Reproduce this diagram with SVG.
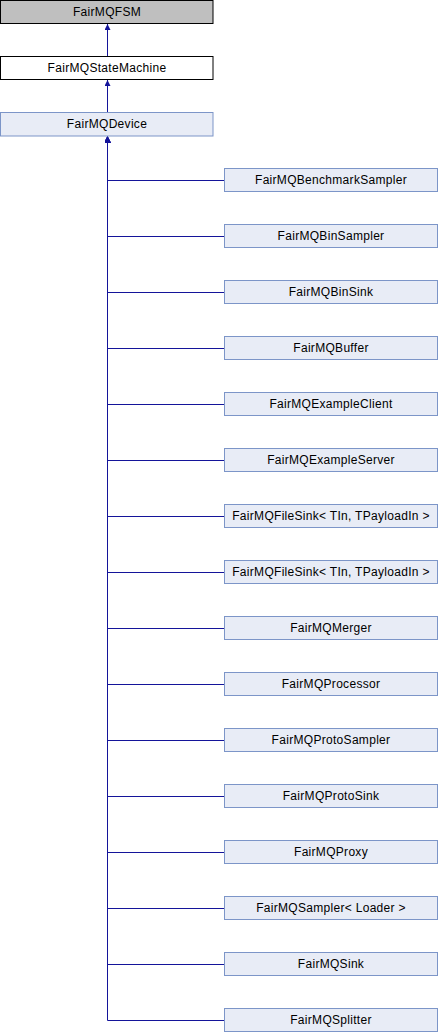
<svg xmlns="http://www.w3.org/2000/svg" width="438" height="1032" viewBox="0 0 438 1032">
<style>
rect.base{fill:#bfbfbf;stroke:#000000;stroke-width:1}
rect.plain{fill:#ffffff;stroke:#000000;stroke-width:1}
rect.cls{fill:#e8ecf6;stroke:#7c95c8;stroke-width:1}
text{font-family:"Liberation Sans",Arial,sans-serif;font-size:12px;letter-spacing:0.3px;fill:#000000;text-anchor:middle}
.edge path{fill:none;stroke:#14149a;stroke-width:1;marker-end:url(#arr)}
</style>
<defs>
<marker id="arr" viewBox="0 0 10 10" refX="10" refY="5" markerWidth="6" markerHeight="6" markerUnits="userSpaceOnUse" orient="auto">
<path d="M0,0 L10,5 L0,10 z" fill="#14149a"/>
</marker>
</defs>
<g id="connectors" class="edge">
<path d="M107.5 56.5 V24"/>
<path d="M107.5 112.5 V80"/>
<path d="M224.5 180.5 H107.5 V136.5"/>
<path d="M224.5 236.5 H107.5 V136.5"/>
<path d="M224.5 292.5 H107.5 V136.5"/>
<path d="M224.5 348.5 H107.5 V136.5"/>
<path d="M224.5 404.5 H107.5 V136.5"/>
<path d="M224.5 460.5 H107.5 V136.5"/>
<path d="M224.5 516.5 H107.5 V136.5"/>
<path d="M224.5 572.5 H107.5 V136.5"/>
<path d="M224.5 628.5 H107.5 V136.5"/>
<path d="M224.5 684.5 H107.5 V136.5"/>
<path d="M224.5 740.5 H107.5 V136.5"/>
<path d="M224.5 796.5 H107.5 V136.5"/>
<path d="M224.5 852.5 H107.5 V136.5"/>
<path d="M224.5 908.5 H107.5 V136.5"/>
<path d="M224.5 964.5 H107.5 V136.5"/>
<path d="M224.5 1020.5 H107.5 V136.5"/>
</g>
<g id="FairMQFSM"><rect class="base" x="0.5" y="0.5" width="212.5" height="23"/><text x="107" y="16">FairMQFSM</text></g>
<g id="FairMQStateMachine"><rect class="plain" x="0.5" y="56.5" width="212.5" height="23"/><text x="107" y="72">FairMQStateMachine</text></g>
<g id="FairMQDevice"><rect class="cls" x="0.5" y="112.5" width="212.5" height="23.5"/><text x="107" y="128">FairMQDevice</text></g>
<g id="FairMQBenchmarkSampler"><rect class="cls" x="224.5" y="168.5" width="213" height="23"/><text x="331" y="184">FairMQBenchmarkSampler</text></g>
<g id="FairMQBinSampler"><rect class="cls" x="224.5" y="224.5" width="213" height="23"/><text x="331" y="240">FairMQBinSampler</text></g>
<g id="FairMQBinSink"><rect class="cls" x="224.5" y="280.5" width="213" height="23"/><text x="331" y="296">FairMQBinSink</text></g>
<g id="FairMQBuffer"><rect class="cls" x="224.5" y="336.5" width="213" height="23"/><text x="331" y="352">FairMQBuffer</text></g>
<g id="FairMQExampleClient"><rect class="cls" x="224.5" y="392.5" width="213" height="23"/><text x="331" y="408">FairMQExampleClient</text></g>
<g id="FairMQExampleServer"><rect class="cls" x="224.5" y="448.5" width="213" height="23"/><text x="331" y="464">FairMQExampleServer</text></g>
<g id="FairMQFileSink1"><rect class="cls" x="224.5" y="504.5" width="213" height="23"/><text x="331" y="520">FairMQFileSink&lt; TIn, TPayloadIn &gt;</text></g>
<g id="FairMQFileSink2"><rect class="cls" x="224.5" y="560.5" width="213" height="23"/><text x="331" y="576">FairMQFileSink&lt; TIn, TPayloadIn &gt;</text></g>
<g id="FairMQMerger"><rect class="cls" x="224.5" y="616.5" width="213" height="23"/><text x="331" y="632">FairMQMerger</text></g>
<g id="FairMQProcessor"><rect class="cls" x="224.5" y="672.5" width="213" height="23"/><text x="331" y="688">FairMQProcessor</text></g>
<g id="FairMQProtoSampler"><rect class="cls" x="224.5" y="728.5" width="213" height="23"/><text x="331" y="744">FairMQProtoSampler</text></g>
<g id="FairMQProtoSink"><rect class="cls" x="224.5" y="784.5" width="213" height="23"/><text x="331" y="800">FairMQProtoSink</text></g>
<g id="FairMQProxy"><rect class="cls" x="224.5" y="840.5" width="213" height="23"/><text x="331" y="856">FairMQProxy</text></g>
<g id="FairMQSampler"><rect class="cls" x="224.5" y="896.5" width="213" height="23"/><text x="331" y="912">FairMQSampler&lt; Loader &gt;</text></g>
<g id="FairMQSink"><rect class="cls" x="224.5" y="952.5" width="213" height="23"/><text x="331" y="968">FairMQSink</text></g>
<g id="FairMQSplitter"><rect class="cls" x="224.5" y="1008.5" width="213" height="23"/><text x="331" y="1024">FairMQSplitter</text></g>
</svg>
